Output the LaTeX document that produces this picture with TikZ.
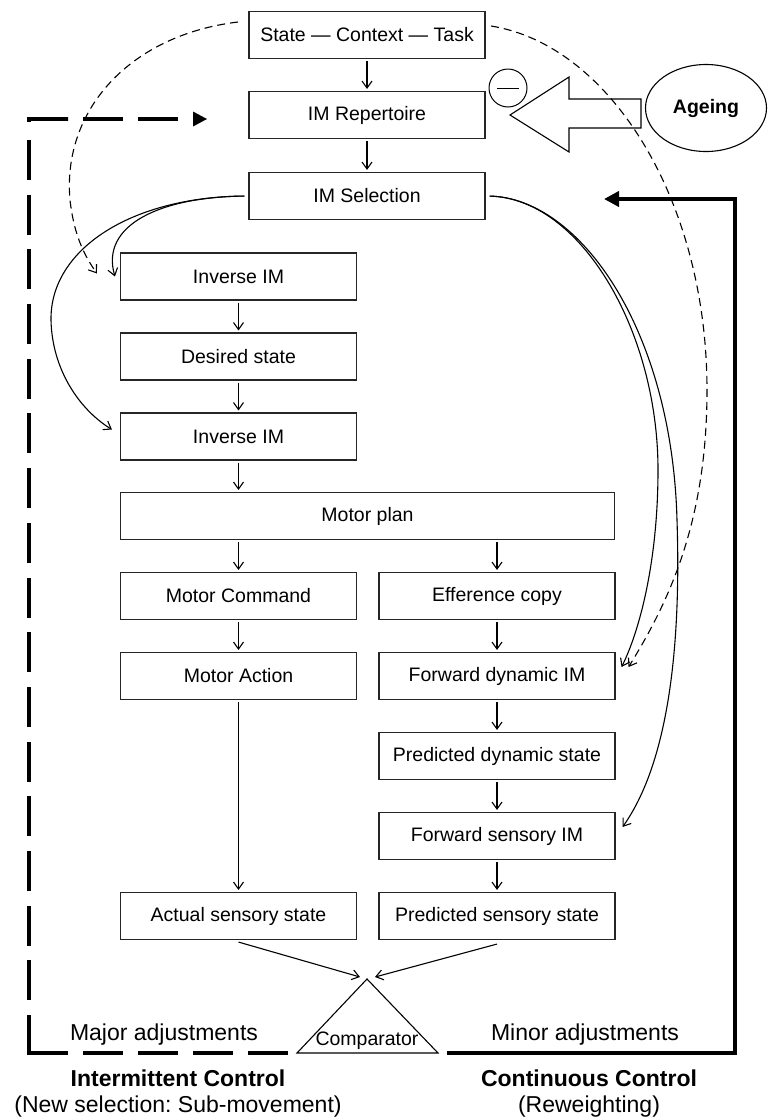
\documentclass[tikz,border=0pt]{standalone}
\usepackage{fontspec}
\setmainfont{Liberation Sans}
\usetikzlibrary{arrows.meta,shapes.geometric}
\frenchspacing
\begin{document}
\begin{tikzpicture}[x=1pt,y=-1pt,
  box/.style={draw=black!85,line width=1.1pt,minimum width=236pt,minimum height=47pt,inner sep=0pt,font=\fontsize{19.5}{22}\selectfont},
  wbox/.style={box,minimum width=494pt},
  arr/.style={line width=1.1pt,-{Straight Barb[length=7pt,width=10pt]}},
  darr/.style={arr,dash pattern=on 8pt off 5pt},
  heavy/.style={line width=4.5pt},
  heavydash/.style={heavy,dash pattern=on 40pt off 15pt},
  lab/.style={inner sep=0pt,font=\fontsize{23}{26}\selectfont},
  labb/.style={inner sep=0pt,font=\bfseries\fontsize{23}{26}\selectfont}
]
\useasboundingbox (0,0) rectangle (768,1117);

% boxes
\node[box] (stc) at (367,35) {State — Context — Task};
\node[box] (rep) at (367,115) {IM Repertoire};
\node[box] (sel) at (367,196) {IM Selection};
\node[box] (inv1) at (238.5,276.5) {Inverse IM};
\node[box] (des) at (238.5,356.5) {Desired state};
\node[box] (inv2) at (238.5,436.5) {Inverse IM};
\node[wbox] (plan) at (367.5,516) {Motor plan};
\node[box] (cmd) at (238.5,596) {Motor Command};
\node[box] (eff) at (497,596) {Efference copy};
\node[box] (act) at (238.5,676) {Motor Action};
\node[box] (fwd) at (497,676) {Forward dynamic IM};
\node[box] (pds) at (497,756) {Predicted dynamic state};
\node[box] (fsi) at (497,836) {Forward sensory IM};
\node[box] (ass) at (238.5,916) {Actual sensory state};
\node[box] (pss) at (497,916) {Predicted sensory state};

% straight arrows
\begin{scope}[shorten <=2pt,shorten >=2pt]
\draw[arr] (stc) -- (rep);
\draw[arr] (rep) -- (sel);
\draw[arr] (inv1) -- (des);
\draw[arr] (des) -- (inv2);
\draw[arr] (inv2) -- (inv2 |- plan.north);
\draw[arr] (plan.south -| cmd.north) -- (cmd);
\draw[arr] (plan.south -| eff.north) -- (eff);
\draw[arr] (cmd) -- (act);
\draw[arr] (eff) -- (fwd);
\draw[arr] (fwd) -- (pds);
\draw[arr] (pds) -- (fsi);
\draw[arr] (fsi) -- (pss);
\draw[arr] (act) -- (ass);
\end{scope}

% ageing
\node[ellipse,draw,line width=1.1pt,minimum width=121pt,minimum height=87pt,inner sep=0pt,font=\bfseries\fontsize{19.5}{22}\selectfont] (age) at (706,108) {Ageing};
\draw[line width=1.1pt] (510,115) -- (569,77) -- (569,99) -- (641,99) -- (641,128) -- (569,128) -- (569,152) -- cycle;
\node[circle,draw,line width=1pt,minimum size=38pt,inner sep=0pt] (minus) at (508,88) {};
\draw[line width=1pt] ([xshift=-11pt]minus.center) -- ([xshift=11pt]minus.center);

% dashed curves
\coordinate (dlA) at (238,22);
\coordinate (drA) at (491,26);
\draw[darr] (dlA) .. controls (130,35) and (62,110) .. (70,200) .. controls (74,235) and (84,255) .. ([xshift=-23pt,yshift=3pt]inv1.west);
\draw[darr] (drA) .. controls (610,45) and (707,200) .. (707,390) .. controls (707,520) and (670,600) .. ([xshift=13pt,yshift=9pt]fwd.east);

% solid curves
\draw[arr,shorten <=4pt] (sel.west) .. controls (160,197) and (100,225) .. ([xshift=-5pt]inv1.west);
\draw[arr,shorten <=4pt] (sel.west) .. controls (130,197) and (50,250) .. (51,320) .. controls (52,370) and (80,410) .. ([xshift=-8pt,yshift=7pt]inv2.west);
\draw[arr,shorten <=4pt] (sel.east) .. controls (580,198) and (658,330) .. (658,470) .. controls (658,560) and (640,630) .. ([xshift=6pt,yshift=9pt]fwd.east);
\draw[arr,shorten <=4pt] (sel.east) .. controls (580,198) and (672,330) .. (677,520) .. controls (681,640) and (670,760) .. ([xshift=7pt,yshift=9pt]fsi.east);

% comparator
\coordinate (capex) at (367,979);
\coordinate (cl) at (297,1053);
\coordinate (cr) at (438,1053);
\draw[line width=1.1pt] (capex) -- (cl) -- (cr) -- cycle;
\node[inner sep=0pt,font=\fontsize{19.5}{22}\selectfont] (cmpt) at (367,1041) {Comparator};
\draw[arr] ([yshift=-2pt]ass.south) -- ([xshift=-7pt,yshift=2pt]capex);
\draw[arr] ([yshift=-4pt]pss.south) -- ([xshift=8pt,yshift=2pt]capex);

% feedback loops
\coordinate (bl) at (29,1053);
\coordinate (tl) at (29,119);
\coordinate (tlend) at (178,119);
\coordinate (tltip) at (207,119);
\coordinate (br) at (735,1053);
\coordinate (tr) at (735,199);
\coordinate (trend) at (604,199);
% intermittent (dashed) loop
\draw[heavydash] (tlend) -- (68,119);
\draw[heavy] (68,119) -- (tl) -- (29,122);
\draw[heavy,dash pattern=on 40pt off 14.69pt] (29,140) -- (29,1015);
\draw[heavy] (29,1015) -- (bl) -- (68,1053);
\draw[heavydash] (83,1053) -- ([xshift=-9pt]cl);
\fill ([xshift=-14pt,yshift=7.5pt]tltip) -- (tltip) -- ([xshift=-14pt,yshift=-7.5pt]tltip) -- cycle;
% continuous loop
\draw[heavy,-{Triangle[length=15pt,width=15pt]}] ([xshift=9pt]cr) -- (br) -- (tr) -- (trend);

% labels
\node[lab] (maj) at (164,1035) {Major adjustments};
\node[lab] (min) at (585,1035) {Minor adjustments};
\node[labb] (ic) at (178,1078) {Intermittent Control};
\node[lab] (ics) at (178,1107) {(New selection: Sub-movement)};
\node[labb] (cc) at (589,1078) {Continuous Control};
\node[lab] (ccs) at (589,1107) {(Reweighting)};
\end{tikzpicture}
\end{document}
